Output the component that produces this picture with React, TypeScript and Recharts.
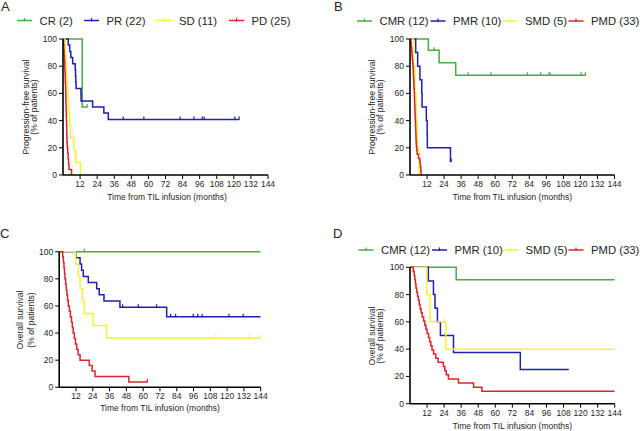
import { Line, LineChart, XAxis, YAxis } from "recharts";

// [months, % surviving, censored?]
type Pt = [number, number, number?];

const xTicks = [12, 24, 36, 48, 60, 72, 84, 96, 108, 120, 132, 144];
const yTicks = [0, 20, 40, 60, 80, 100];
const xTitle = "Time from TIL infusion (months)";

const responseGroups = ["CR (2)", "PR (22)", "SD (11)", "PD (25)"];
const metabolicGroups = ["CMR (12)", "PMR (10)", "SMD (5)", "PMD (33)"];
const colors = ["#45ad45", "#1f1fb0", "#f4f43c", "#d8262b"];

// A: PFS by RECIST response
const crPfs: Pt[] = [[0, 100], [13.5, 50], [17, 50, 1]];
const prPfs: Pt[] = [
  [0, 100], [3.7, 95.5], [4.7, 90.9], [5.5, 86.4], [6.8, 81.8], [8.6, 77.3], [8.8, 72.7],
  [9, 68.2], [9.2, 63.6], [12.6, 59.1], [12.7, 54.5], [20.8, 50], [28.7, 45.5], [31.8, 40.9],
  [42.3, 40.9, 1], [56.8, 40.9, 1], [82.3, 40.9, 1], [92, 40.9, 1], [97.8, 40.9, 1],
  [99.2, 40.9, 1], [120.7, 40.9, 1], [123.7, 40.9, 1],
];
const sdPfs: Pt[] = [
  [0, 100], [1.5, 90.9], [2, 81.8], [2.5, 72.7], [3, 63.6], [3.5, 54.5], [4, 45.5],
  [4.8, 36.4], [5.3, 27.3], [7.7, 18.2], [9, 9.1], [12.3, 0],
];
const pdPfs: Pt[] = [
  [0, 100], [0.4, 96], [0.6, 92], [0.8, 88], [1, 84], [1.2, 80], [1.3, 76], [1.5, 72],
  [1.6, 68], [1.8, 64], [1.9, 60], [2, 56], [2.1, 52], [2.2, 48], [2.3, 44], [2.4, 40],
  [2.5, 36], [2.6, 32], [2.7, 28], [2.8, 24], [3, 20], [3.3, 16], [3.6, 12], [3.9, 8],
  [4.2, 4], [6, 0],
];

// B: PFS by metabolic response
const cmrPfs: Pt[] = [
  [0, 100], [12.9, 91.7], [17, 91.7, 1], [20.5, 82.5], [32.2, 73.3], [41, 73.3, 1],
  [57, 73.3, 1], [82.6, 73.3, 1], [92, 73.3, 1], [97.9, 73.3, 1], [98.6, 73.3, 1],
  [120.5, 73.3, 1], [123.5, 73.3, 1],
];
const pmrPfs: Pt[] = [
  [0, 100], [4, 90], [5.4, 80], [7, 70], [8.3, 60], [8.5, 50], [11.5, 40], [12.1, 30],
  [12.2, 20], [28.5, 10], [29, 10, 1],
];
const smdPfs: Pt[] = [[0, 100], [2.5, 80], [3.5, 60], [4.3, 40], [5.2, 20], [6.3, 0]];
const pmdPfs: Pt[] = [
  [0, 100], [0.6, 97], [0.9, 93.9], [1.2, 90.9], [1.4, 87.9], [1.6, 84.8], [1.9, 81.8],
  [2.1, 78.8], [2.3, 75.8], [2.4, 72.7], [2.6, 69.7], [2.7, 66.7], [2.8, 63.6], [3, 60.6],
  [3.1, 57.6], [3.2, 54.5], [3.3, 51.5], [3.4, 48.5], [3.5, 45.5], [3.6, 42.4], [3.8, 39.4],
  [3.9, 36.4], [4, 33.3], [4.1, 30.3], [4.2, 27.3], [4.3, 24.2], [4.5, 21.2], [4.7, 18.2],
  [5, 15.2], [6, 12.1], [7, 9.1], [7.3, 6.1], [7.6, 3], [7.8, 0],
];

// C: OS by RECIST response
const crOs: Pt[] = [[0, 100], [17.9, 100, 1], [144, 100]];
const prOs: Pt[] = [
  [0, 100], [12, 95.5], [14.9, 90.9], [16, 86.4], [17.2, 81.8], [20.8, 77.3], [26.8, 72.7],
  [28.6, 68.2], [32, 63.6], [43.4, 59.1], [45.3, 59.1, 1], [56.5, 59.1, 1], [69.6, 59.1, 1],
  [76.8, 52], [79.6, 52, 1], [83.2, 52, 1], [95.8, 52, 1], [99, 52, 1], [102.2, 52, 1],
  [121.3, 52, 1], [131.5, 52, 1], [144, 52],
];
const sdOs: Pt[] = [
  [0, 100], [11.8, 90.9], [13.7, 81.8], [14.9, 72.7], [16.5, 63.6], [17.9, 54.5],
  [24.2, 45.5], [33.9, 36.4], [112, 36.4, 1], [135.7, 36.4, 1], [144, 36.4, 1],
];
const pdOs: Pt[] = [
  [0, 100], [2.5, 96], [3, 92], [3.4, 88], [3.8, 84], [4.1, 80], [4.6, 76], [5, 72],
  [5.5, 68], [6, 64], [6.5, 60], [7.3, 56], [8, 52], [8.8, 48], [9.4, 44], [10, 40],
  [10.8, 36], [11.6, 32], [12.5, 28], [13.5, 24], [14.9, 20], [21.5, 16], [23.5, 12],
  [25.6, 8], [49.8, 4], [63, 4, 1],
];

// D: OS by metabolic response
const cmrOs: Pt[] = [[0, 100], [32.5, 90.9], [144, 90.9]];
const pmrOs: Pt[] = [
  [0, 100], [12.9, 90], [16.5, 80], [17.6, 70], [19.3, 60], [21.4, 50], [30.6, 37.5],
  [77.6, 25], [111.7, 25],
];
const smdOs: Pt[] = [[0, 100], [11.8, 80], [14.1, 60], [23.8, 60, 1], [25.2, 40], [144, 40]];
const pmdOs: Pt[] = [
  [0, 100], [2.3, 97], [3, 93.9], [3.4, 90.9], [3.8, 87.9], [4.2, 84.8], [4.7, 81.8],
  [5.3, 78.8], [5.9, 75.8], [6.5, 72.7], [7.1, 69.7], [7.8, 66.7], [8.6, 63.6], [9.6, 60.6],
  [10.4, 57.6], [11.2, 54.5], [12, 51.5], [13, 48.5], [13.8, 45.5], [14.6, 42.4],
  [15.5, 39.4], [16.6, 36.4], [18.1, 33.3], [19.8, 30.3], [23.5, 27.3], [24.5, 24.2],
  [25.5, 21.2], [27, 18.2], [34.1, 15.2], [44.7, 12.1], [50.6, 9.1], [144, 9.1],
];

const FONT = "'Liberation Sans', Arial, Helvetica, sans-serif";
const TEXT = "#262626";

const toRows = (pts: Pt[]) => pts.map(([t, s, c]) => ({ t, s, c: c ? 1 : 0 }));

const censorDot = (color: string) => (props: any) => {
  const { cx, cy, payload, index } = props;
  if (!payload || !payload.c || cx == null) return <g key={`n-${index}`} />;
  return (
    <line key={`c-${index}`} x1={cx} x2={cx} y1={cy - 3} y2={cy + 0.5} stroke={color} strokeWidth={1.2} />
  );
};

const panels = [
  {
    letter: "A", left: 0, top: 0, width: 320, height: 215,
    margin: { top: 39, right: 52, left: 33, bottom: 20 },
    series: [crPfs, prPfs, sdPfs, pdPfs],
  },
  {
    letter: "B", left: 320, top: 0, width: 320, height: 215,
    margin: { top: 39, right: 25.5, left: 60, bottom: 20 },
    series: [cmrPfs, pmrPfs, smdPfs, pmdPfs],
  },
  {
    letter: "C", left: 0, top: 215, width: 320, height: 216,
    margin: { top: 36.7, right: 59.3, left: 29.2, bottom: 23.7 },
    series: [crOs, prOs, sdOs, pdOs],
  },
  {
    letter: "D", left: 320, top: 215, width: 320, height: 216,
    margin: { top: 52.3, right: 25.3, left: 60, bottom: 7.3 },
    series: [cmrOs, pmrOs, smdOs, pmdOs],
  },
];

function KMChart({ p }: { p: (typeof panels)[number] }) {
  return (
    <div style={{ position: "absolute", left: p.left, top: p.top }}>
      <LineChart width={p.width} height={p.height} margin={p.margin}>
        <XAxis
          dataKey="t"
          type="number"
          domain={[0, 144]}
          ticks={xTicks}
          interval={0}
          allowDataOverflow
          height={20}
          tickSize={4}
          axisLine={{ stroke: "#000", strokeWidth: 1.6 }}
          tickLine={{ stroke: "#000", strokeWidth: 1 }}
          tick={{ fill: TEXT, fontSize: 8.5, fontFamily: FONT }}
        />
        <YAxis
          type="number"
          domain={[0, 100]}
          ticks={yTicks}
          interval={0}
          width={30}
          tickSize={4}
          axisLine={{ stroke: "#000", strokeWidth: 1.6 }}
          tickLine={{ stroke: "#000", strokeWidth: 1 }}
          tick={{ fill: TEXT, fontSize: 8.5, fontFamily: FONT }}
        />
        {p.series.map((pts, i) => (
          <Line
            key={i}
            data={toRows(pts)}
            dataKey="s"
            type="stepAfter"
            stroke={colors[i]}
            strokeWidth={1.5}
            dot={censorDot(colors[i])}
            activeDot={false}
            isAnimationActive={false}
          />
        ))}
      </LineChart>
    </div>
  );
}

function LegendRow({ names, y, starts }: { names: string[]; y: number; starts: number[] }) {
  return (
    <g>
      {names.map((n, i) => (
        <g key={n}>
          <line x1={starts[i]} x2={starts[i] + 15} y1={y} y2={y} stroke={colors[i]} strokeWidth={1.5} />
          <line x1={starts[i] + 7.5} x2={starts[i] + 7.5} y1={y - 2.5} y2={y + 1} stroke={colors[i]} strokeWidth={1.2} />
          <text x={starts[i] + 22.5} y={y} dominantBaseline="central" fontSize={11.3} fill={TEXT}>
            {n}
          </text>
        </g>
      ))}
    </g>
  );
}

function YTitle({ x1, x2, cy, first }: { x1: number; x2: number; cy: number; first: string }) {
  return (
    <g fontSize={8.6} fill={TEXT} textAnchor="middle">
      <text x={x1} y={cy} dominantBaseline="central" transform={`rotate(-90 ${x1} ${cy})`}>
        {first}
      </text>
      <text x={x2} y={cy} dominantBaseline="central" transform={`rotate(-90 ${x2} ${cy})`}>
        (% of patients)
      </text>
    </g>
  );
}

export default function App() {
  return (
    <div
      style={{
        position: "absolute",
        left: 0,
        top: 0,
        width: 640,
        height: 431,
        background: "#fff",
        overflow: "hidden",
        fontFamily: FONT,
      }}
    >
      {panels.map((p) => (
        <KMChart key={p.letter} p={p} />
      ))}
      <svg
        width={640}
        height={431}
        style={{ position: "absolute", left: 0, top: 0, pointerEvents: "none" }}
        fontFamily={FONT}
      >
        <g fontSize={13} fill={TEXT}>
          <text x={1} y={11}>A</text>
          <text x={334} y={11}>B</text>
          <text x={0} y={238}>C</text>
          <text x={333} y={238}>D</text>
        </g>

        <LegendRow names={responseGroups} y={20.5} starts={[17, 84, 156.5, 229]} />
        <LegendRow names={metabolicGroups} y={21} starts={[357, 430.5, 502.5, 568.5]} />
        <LegendRow names={metabolicGroups} y={250} starts={[358.5, 432, 503, 568.5]} />

        <YTitle x1={25.5} x2={33.5} cy={107} first="Progression-free survival" />
        <YTitle x1={371.7} x2={379.7} cy={107} first="Progression-free survival" />
        <YTitle x1={20} x2={31} cy={320} first="Overall survival" />
        <YTitle x1={371.5} x2={380} cy={336} first="Overall survival" />

        <g fontSize={8.5} fill={TEXT} textAnchor="middle">
          <text x={167} y={197} dominantBaseline="central">{xTitle}</text>
          <text x={512.3} y={197} dominantBaseline="central">{xTitle}</text>
          <text x={160} y={408.3} dominantBaseline="central">{xTitle}</text>
          <text x={512.3} y={425.7} dominantBaseline="central">{xTitle}</text>
        </g>
      </svg>
    </div>
  );
}
